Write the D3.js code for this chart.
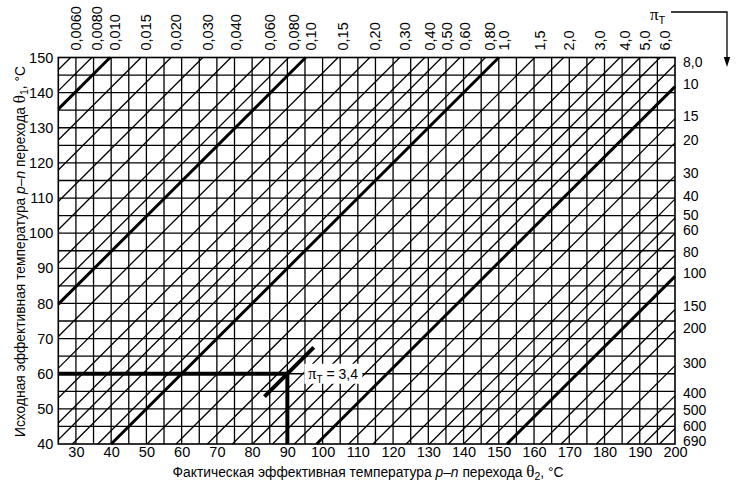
<!DOCTYPE html>
<html><head><meta charset="utf-8">
<script src="https://cdn.jsdelivr.net/npm/d3@7"></script>
<style>body{margin:0;background:#fff}</style>
</head><body><svg id="c" width="739" height="492"></svg>
<script>
// ---- data ----
const xTicks = [30,40,50,60,70,80,90,100,110,120,130,140,150,160,170,180,190,200];
const yTicks = [40,50,60,70,80,90,100,110,120,130,140,150];
const gridX = d3.range(30, 200, 5);
const gridY = d3.range(45, 150, 5);
// πT lines leaving through the top edge (θ1 = 150): θ2 at crossing
const topPi     = ["0,0060","0,0080","0,010","0,015","0,020","0,030","0,040","0,060","0,080","0,10","0,15","0,20","0,30","0,40","0,50","0,60","0,80","1,0","1,5","2,0","3,0","4,0","5,0","6,0"];
const topTheta2 = [28.5, 34.5, 39.7, 48.5, 57.0, 66.0, 74.0, 83.6, 90.4, 95.2, 104.4, 113.4, 121.9, 129.0, 133.8, 139.0, 146.2, 150.0, 160.2, 168.4, 177.3, 184.4, 190.1, 195.8];
// πT lines leaving through the right edge (θ2 = 200): θ1 at crossing
const rightPi     = ["8,0","10","15","20","30","40","50","60","80","100","150","200","300","400","500","600","690"];
const rightTheta1 = [148.0, 141.7, 132.6, 125.7, 116.3, 109.7, 104.3, 100.0, 93.7, 87.7, 78.3, 72.3, 62.3, 53.7, 48.9, 44.4, 40.0];
const decadePi = ["0,010","0,10","1,0","10","100"];
// worked example
const exTheta1 = 60, exTheta2 = 90, exPi = "3,4", exHalf = 7;

// ---- chart ----
const svg = d3.select("#c");
const m = {left:58.3, right:675, top:57.5, bottom:444};
const x = d3.scaleLinear().domain([25,200]).range([m.left,m.right]);
const y = d3.scaleLinear().domain([40,150]).range([m.bottom,m.top]);
const NARROW = "'Liberation Sans Narrow','Arial Narrow','Liberation Sans',Arial,sans-serif";
const SANS = "'Liberation Sans',Arial,sans-serif";

svg.append("rect").attr("width",739).attr("height",492).attr("fill","#fff");

const g = svg.append("g");
// grid
g.selectAll(".gx").data(gridX).join("line")
  .attr("x1",d=>x(d)).attr("x2",d=>x(d)).attr("y1",y(40)).attr("y2",y(150))
  .attr("stroke","#000").attr("stroke-width",1.3);
g.selectAll(".gy").data(gridY).join("line")
  .attr("y1",d=>y(d)).attr("y2",d=>y(d)).attr("x1",x(25)).attr("x2",x(200))
  .attr("stroke","#000").attr("stroke-width",1.3);

// diagonal πT lines (θ1 = θ2 + d)
const lines = [];
topPi.forEach((p,i)=>lines.push({pi:p, d:150-topTheta2[i], side:"top"}));
rightPi.forEach((p,i)=>lines.push({pi:p, d:rightTheta1[i]-200, side:"right"}));
lines.forEach(L=>{
  L.x1 = Math.max(25, 40-L.d); L.y1 = L.x1 + L.d;
  L.x2 = Math.min(200, 150-L.d); L.y2 = L.x2 + L.d;
  L.thick = decadePi.includes(L.pi);
});
g.selectAll(".diag").data(lines).join("line")
  .attr("x1",d=>x(d.x1)).attr("y1",d=>y(d.y1)).attr("x2",d=>x(d.x2)).attr("y2",d=>y(d.y2))
  .attr("stroke","#000").attr("stroke-width",d=>d.thick?3:1.3);

// frame
g.append("rect").attr("x",x(25)).attr("y",y(150)).attr("width",x(200)-x(25)).attr("height",y(40)-y(150))
  .attr("fill","none").attr("stroke","#000").attr("stroke-width",1.6);

// worked example
const ex = svg.append("g").attr("stroke","#000").attr("stroke-width",4);
ex.append("line").attr("x1",x(25)).attr("x2",x(exTheta2)).attr("y1",y(exTheta1)).attr("y2",y(exTheta1));
ex.append("line").attr("x1",x(exTheta2)).attr("x2",x(exTheta2)).attr("y1",y(exTheta1)).attr("y2",y(40));
ex.append("line").attr("x1",x(exTheta2-exHalf+0.5)).attr("y1",y(exTheta1-exHalf+0.5))
  .attr("x2",x(exTheta2+exHalf+0.5)).attr("y2",y(exTheta1+exHalf+0.5));
const lx = x(exTheta2)+21, ly = y(exTheta1);
svg.append("rect").attr("x",lx-4).attr("y",ly-10).attr("width",58).attr("height",20).attr("fill","#fff");
const lt = svg.append("text").attr("x",lx).attr("y",ly+5).attr("font-family",SANS).attr("font-size",14).attr("fill","#000");
lt.append("tspan").attr("font-family","'Liberation Serif',serif").attr("font-size",16).text("π");
lt.append("tspan").attr("font-size",10).attr("dy",4).text("T");
lt.append("tspan").attr("dy",-4).text(" = " + exPi);

// axes (tick labels)
const gxA = svg.append("g").attr("transform",`translate(0,${m.bottom})`)
  .call(d3.axisBottom(x).tickValues(xTicks).tickSize(0).tickPadding(3));
gxA.select(".domain").remove();
const gyA = svg.append("g").attr("transform",`translate(${m.left},0)`)
  .call(d3.axisLeft(y).tickValues(yTicks).tickSize(0).tickPadding(5));
gyA.select(".domain").remove();
svg.selectAll(".tick text").attr("font-family",NARROW).attr("font-size",14.5).attr("fill","#000");

// top πT labels
svg.append("g").selectAll("text").data(lines.filter(L=>L.side==="top")).join("text")
  .attr("transform",d=>`translate(${x(d.x2)+10},${m.top-7}) rotate(-90)`)
  .attr("font-family",NARROW).attr("font-size",14.5).attr("fill","#000")
  .text(d=>d.pi);
// right πT labels
svg.append("g").selectAll("text").data(lines.filter(L=>L.side==="right")).join("text")
  .attr("x",m.right+8).attr("y",d=>y(d.y2)+2)
  .attr("font-family",NARROW).attr("font-size",14).attr("fill","#000")
  .text(d=>d.pi);

// πT arrow (top right)
const pt = svg.append("text").attr("x",650).attr("y",20).attr("font-size",14).attr("fill","#000").attr("font-family",SANS);
pt.append("tspan").attr("font-family","'Liberation Serif',serif").attr("font-size",17).text("π");
pt.append("tspan").attr("font-size",11).attr("dy",4).text("T");
svg.append("path").attr("d","M671,12 H727 V60").attr("fill","none").attr("stroke","#000").attr("stroke-width",1.3);
svg.append("path").attr("d","M723.8,57 L730.2,57 L727,67 Z").attr("fill","#000");

// axis titles
const xt = svg.append("text").attr("x",368).attr("y",477).attr("text-anchor","middle")
  .attr("font-family",SANS).attr("font-size",13.8).attr("fill","#000");
xt.append("tspan").text("Фактическая эффективная температура ");
xt.append("tspan").attr("font-style","italic").text("p–n");
xt.append("tspan").text(" перехода ");
xt.append("tspan").attr("font-family","'Liberation Serif',serif").attr("font-size",17).text("θ");
xt.append("tspan").attr("font-size",10.5).attr("dy",3).text("2");
xt.append("tspan").attr("dy",-3).text(", °C");

const yt = svg.append("text").attr("transform",`translate(25,251.5) rotate(-90)`).attr("text-anchor","middle")
  .attr("font-family",SANS).attr("font-size",13.8).attr("fill","#000");
yt.append("tspan").text("Исходная эффективная температура ");
yt.append("tspan").attr("font-style","italic").text("p–n");
yt.append("tspan").text(" перехода ");
yt.append("tspan").attr("font-family","'Liberation Serif',serif").attr("font-size",17).text("θ");
yt.append("tspan").attr("font-size",10.5).attr("dy",3).text("1");
yt.append("tspan").attr("dy",-3).text(", °C");
</script>
</body></html>
